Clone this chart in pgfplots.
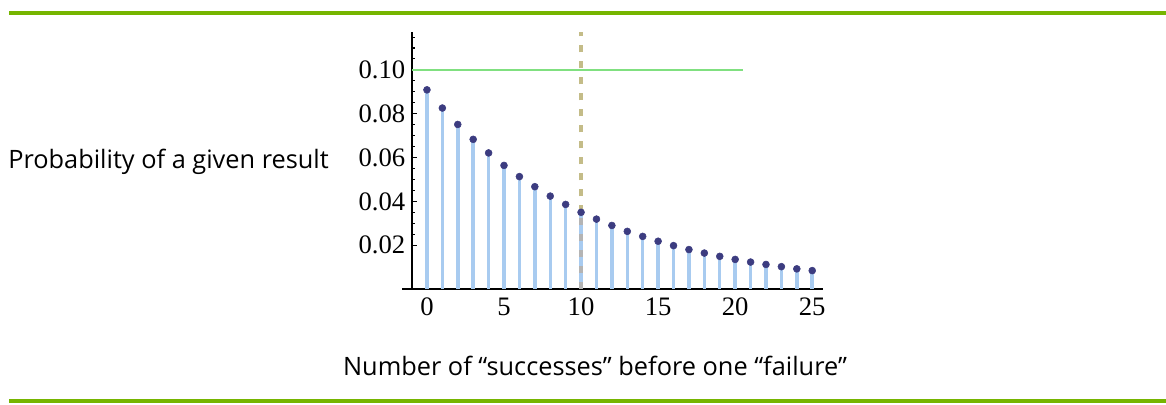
\documentclass[border=0pt]{standalone}
\usepackage{fontspec}
\setmainfont{Liberation Serif}
\newfontfamily\labelfont{Open Sans}
\usepackage{pgfplots}
\pgfplotsset{compat=1.18}
\definecolor{brand}{HTML}{76B500}
\definecolor{stem}{HTML}{A8CBF0}
\definecolor{dot}{HTML}{3C3C80}
\definecolor{refline}{HTML}{80E080}
\definecolor{khaki}{HTML}{C4BC88}
\definecolor{greyd}{HTML}{B4B4B4}
\begin{document}
\begin{tikzpicture}
\path[use as bounding box] (0,0) rectangle (874.5pt,303pt);
\fill[brand] (6.75pt,291.75pt) rectangle (874.5pt,294.75pt);
\fill[brand] (6.75pt,0.75pt) rectangle (874.5pt,3.5pt);
\node[anchor=base west,inner sep=0pt,font=\labelfont\fontsize{19}{22}\selectfont] at (6pt,177pt) {Probability of a given result};
\node[anchor=base,inner sep=0pt,font=\labelfont\fontsize{19}{22}\selectfont] at (446.25pt,21.75pt) {Number of “successes” before one “failure”};
\begin{axis}[
  at={(309pt,86.25pt)},
  scale only axis, width=308.25pt, height=192.75pt,
  xmin=-0.97, xmax=25.7, ymin=0, ymax=0.1173,
  anchor=south west,
  axis x line*=bottom, axis y line*=left,
  axis line style={-, line width=1pt, black},
  xtick={0,5,10,15,20,25}, minor x tick num=4,
  ytick={0.02,0.04,0.06,0.08,0.10}, minor y tick num=3,
  extra y ticks={0.105,0.110,0.115}, extra y tick labels={},
  extra y tick style={major tick length=2.25pt},
  tick align=inside,
  major tick length=3.75pt, minor tick length=2.25pt,
  tick style={black, line width=0.8pt},
  /pgf/number format/assume math mode=true,
  yticklabel style={/pgf/number format/fixed, /pgf/number format/fixed zerofill, /pgf/number format/precision=2, xshift=-1.5pt},
  ticklabel style={font=\fontsize{20}{20}\selectfont},
  xticklabel style={yshift=-3pt},
  clip=false,
]
\draw[black, line width=1pt] (axis cs:-1.6,0) -- (axis cs:-0.97,0);
\addplot[refline, line width=1.2pt, forget plot] coordinates {(-0.97,0.1) (20.5,0.1)};
\addplot[ycomb, stem, line width=2.6pt, forget plot] table {
x y
0 0.0909
1 0.0826
2 0.0751
3 0.0683
4 0.0621
5 0.0564
6 0.0513
7 0.0467
8 0.0424
9 0.0386
10 0.0350
11 0.0319
12 0.0290
13 0.0263
14 0.0240
15 0.0218
16 0.0198
17 0.0180
18 0.0164
19 0.0149
20 0.0135
21 0.0123
22 0.0112
23 0.0102
24 0.0092
25 0.0084
};
\addplot[greyd, line width=3pt, dash pattern=on 5.5pt off 6.5pt, forget plot] coordinates {(10,0) (10,0.0350)};
\addplot[khaki, line width=3pt, dash pattern=on 5.5pt off 6.5pt, forget plot] coordinates {(10,0.0350) (10,0.1173)};
\addplot[only marks, mark=*, mark size=2.6pt, dot, mark options={draw=dot,fill=dot}] table {
x y
0 0.0909
1 0.0826
2 0.0751
3 0.0683
4 0.0621
5 0.0564
6 0.0513
7 0.0467
8 0.0424
9 0.0386
10 0.0350
11 0.0319
12 0.0290
13 0.0263
14 0.0240
15 0.0218
16 0.0198
17 0.0180
18 0.0164
19 0.0149
20 0.0135
21 0.0123
22 0.0112
23 0.0102
24 0.0092
25 0.0084
};
\end{axis}
\end{tikzpicture}
\end{document}
